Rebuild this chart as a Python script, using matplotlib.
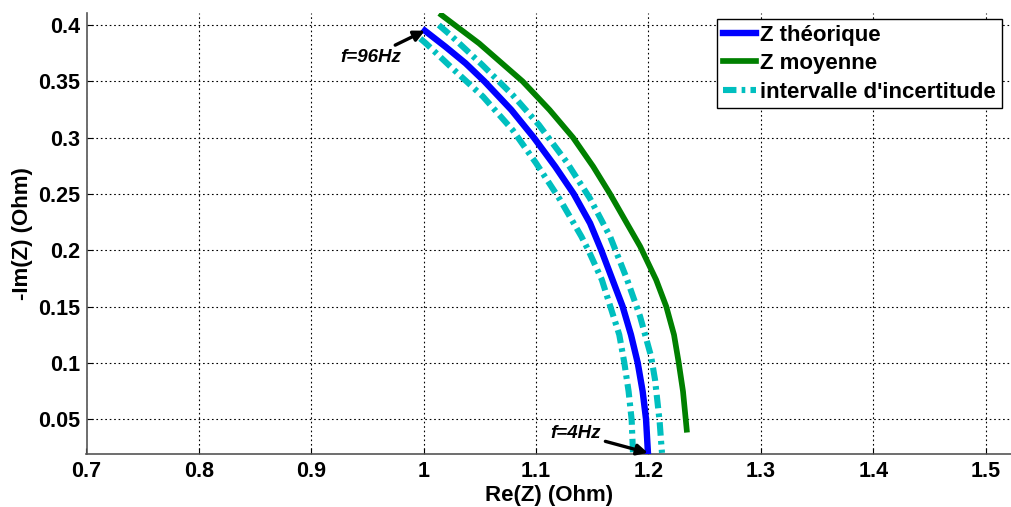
import matplotlib.pyplot as plt

plt.rcParams['font.family'] = ['Liberation Sans', 'DejaVu Sans']
plt.rcParams['font.weight'] = 'bold'

# -Im(Z) and Re(Z) (Ohm), one pair of lists per curve
im_theo = [0.395, 0.3807, 0.366, 0.35, 0.3246, 0.30, 0.2743, 0.25, 0.224, 0.20,
           0.1737, 0.15, 0.1249, 0.10, 0.0746, 0.05, 0.020]
re_theo = [1.001, 1.0194, 1.0373, 1.054, 1.078, 1.098, 1.117, 1.1335, 1.148, 1.158,
           1.168, 1.177, 1.1844, 1.1904, 1.1948, 1.1978, 1.1995]

im_moy = [0.4089, 0.3837, 0.35, 0.3246, 0.30, 0.2743, 0.25, 0.224, 0.2033,
          0.1737, 0.15, 0.1249, 0.10, 0.0746, 0.05, 0.0406]
re_moy = [1.0158, 1.0493, 1.088, 1.112, 1.1329, 1.1508, 1.1658, 1.1807, 1.1926,
          1.2068, 1.2158, 1.2227, 1.2269, 1.2307, 1.2331, 1.234]

im_low = [0.388, 0.3837, 0.3616, 0.3364, 0.3068, 0.2773, 0.2447, 0.2122, 0.20,
          0.1737, 0.147, 0.1249, 0.10, 0.0746, 0.0495, 0.020]
re_low = [0.997, 1.002, 1.0254, 1.0528, 1.0791, 1.10, 1.1214, 1.1403, 1.1465,
          1.1585, 1.167, 1.174, 1.1785, 1.1823, 1.185, 1.1862]

im_high = [0.400, 0.3911, 0.3645, 0.3379, 0.3113, 0.2787, 0.2462, 0.2122,
           0.1752, 0.1412, 0.1057, 0.085, 0.048, 0.0288, 0.020]
re_high = [1.0134, 1.0238, 1.0522, 1.0791, 1.1025, 1.1269, 1.1478, 1.1658,
           1.1805, 1.1925, 1.2023, 1.2058, 1.2099, 1.2113, 1.212]

xticks = [0.7, 0.8, 0.9, 1.0, 1.1, 1.2, 1.3, 1.4, 1.5]
xticklabels = ['0.7', '0.8', '0.9', '1', '1.1', '1.2', '1.3', '1.4', '1.5']
yticks = [0.05, 0.1, 0.15, 0.2, 0.25, 0.3, 0.35, 0.4]
yticklabels = ['0.05', '0.1', '0.15', '0.2', '0.25', '0.3', '0.35', '0.4']

W, H = 1012, 507
fig = plt.figure(figsize=(W / 100, H / 100), dpi=100)
ax = fig.add_axes([86.5 / W, (H - 454) / H, (W - 86.5) / W, (454 - 13) / H])

dash = (2.2, 0.85, 0.6, 0.85)
ax.plot(re_theo, im_theo, color='#0000ff', lw=4.6, label='Z théorique',
        solid_joinstyle='round', zorder=3)
ax.plot(re_moy, im_moy, color='#008000', lw=4.1, label='Z moyenne',
        solid_joinstyle='round', zorder=3)
ax.plot(re_low, im_low, color='#00bfbf', lw=4.4, dashes=dash,
        label="intervalle d'incertitude", zorder=3)
ax.plot(re_high, im_high, color='#00bfbf', lw=4.4, dashes=dash, zorder=3)

arrow = dict(arrowstyle='-|>', color='k', lw=2.4, mutation_scale=16, shrinkA=1, shrinkB=0)
ax.annotate('f=96Hz', xy=(re_theo[0], im_theo[0]), xytext=(0.953, 0.3716),
            fontsize=13.5, fontstyle='italic', fontweight='bold', ha='center', va='center',
            arrowprops=arrow, zorder=4)
ax.annotate('f=4Hz', xy=(re_theo[-1], im_theo[-1]), xytext=(1.1355, 0.0373),
            fontsize=13.5, fontstyle='italic', fontweight='bold', ha='center', va='center',
            arrowprops=arrow, zorder=4)

ax.set_xlim(0.7, 1.5234)
ax.set_ylim(0.019, 0.4107)
ax.set_xticks(xticks)
ax.set_xticklabels(xticklabels, fontsize=15.5, fontweight='bold')
ax.set_yticks(yticks)
ax.set_yticklabels(yticklabels, fontsize=15.5, fontweight='bold')
ax.tick_params(axis='x', direction='in', length=4, width=0.8, pad=5)
ax.tick_params(axis='y', direction='in', length=4, width=0.8, pad=4.5)
ax.grid(True, color='k', linestyle=(0, (1.5, 2.5)), linewidth=0.8)
ax.spines['top'].set_visible(False)
ax.spines['right'].set_visible(False)
for s in ('left', 'bottom'):
    ax.spines[s].set_color('#555555')
    ax.spines[s].set_linewidth(1.2)

ax.set_xlabel('Re(Z) (Ohm)', fontsize=16, fontweight='bold', labelpad=2)
ax.set_ylabel('-Im(Z) (Ohm)', fontsize=16, fontweight='bold', labelpad=4)

leg = fig.legend(loc='upper left', bbox_to_anchor=(717 / W, 1 - 19 / H),
                 fontsize=16, frameon=True, fancybox=False, handlelength=1.5,
                 handletextpad=0.2, labelspacing=0.34, borderpad=0.25, borderaxespad=0)
leg.get_frame().set_edgecolor('k')
leg.get_frame().set_linewidth(1.0)
leg.get_frame().set_alpha(1)
for t in leg.get_texts():
    t.set_fontweight('bold')

fig.savefig('out.png', dpi=100)
